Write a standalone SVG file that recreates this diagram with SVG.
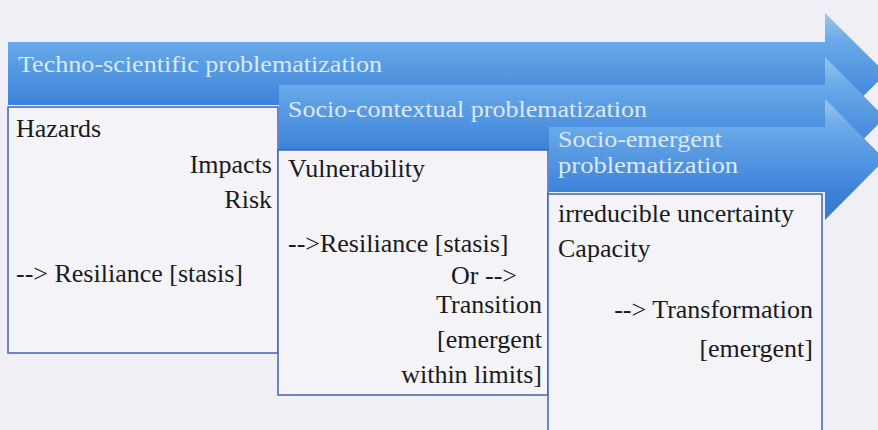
<svg xmlns="http://www.w3.org/2000/svg" width="878" height="430" viewBox="0 0 878 430">
<defs>
<linearGradient id="blueGrad" x1="0" y1="0" x2="0" y2="1">
<stop offset="0" stop-color="#9cc5ee"/>
<stop offset="0.24" stop-color="#68a9e8"/>
<stop offset="0.55" stop-color="#4f93e0"/>
<stop offset="0.76" stop-color="#3c82d9"/>
<stop offset="1" stop-color="#3778d0"/>
</linearGradient>
<style>
.arrow{fill:url(#blueGrad);}
.box{fill:#f3f3f8;stroke:#4262b2;stroke-width:1.5;}
.banner{font-family:"Liberation Serif",serif;font-size:23px;fill:#dce9f6;}
.body{font-family:"Liberation Serif",serif;font-size:26px;fill:#1a1a1a;}
.r{text-anchor:end;}
</style>
</defs>
<rect x="0" y="0" width="878" height="430" fill="#efeff5"/>
<g id="connectors"></g>
<g id="stage1">
<polygon class="arrow" points="8,42 825,42 825,13 886,73.5 825,134 825,105 8,105"/>
<text class="banner" x="18" y="72" textLength="364" lengthAdjust="spacingAndGlyphs">Techno-scientific problematization</text>
<rect class="box" x="8" y="107" width="270" height="246"/>
<text class="body" x="16" y="137">Hazards</text>
<text class="body r" x="272" y="173">Impacts</text>
<text class="body r" x="272" y="208">Risk</text>
<text class="body" x="16" y="282">--&gt; Resiliance [stasis]</text>
</g>
<g id="stage2">
<polygon class="arrow" points="279,85 825,85 825,57 885,117.5 825,178 825,150 279,150"/>
<text class="banner" x="288" y="117" textLength="359" lengthAdjust="spacingAndGlyphs">Socio-contextual problematization</text>
<rect class="box" x="278" y="150" width="270" height="245"/>
<text class="body" x="288" y="177">Vulnerability</text>
<text class="body" x="288" y="252">--&gt;Resiliance [stasis]</text>
<text class="body r" x="517" y="284">Or --&gt;</text>
<text class="body r" x="542" y="313">Transition</text>
<text class="body r" x="542" y="348">[emergent</text>
<text class="body r" x="542" y="383">within limits]</text>
</g>
<g id="stage3">
<polygon class="arrow" points="549,127 825,127 825,99 885,159.5 825,220 825,192 549,192"/>
<text class="banner" x="558" y="147" textLength="164" lengthAdjust="spacingAndGlyphs">Socio-emergent</text>
<text class="banner" x="558" y="173" textLength="180" lengthAdjust="spacingAndGlyphs">problematization</text>
<rect class="box" x="548" y="194" width="274" height="250"/>
<text class="body" x="558" y="222">irreducible uncertainty</text>
<text class="body" x="558" y="257">Capacity</text>
<text class="body r" x="813" y="318">--&gt; Transformation</text>
<text class="body r" x="813" y="357">[emergent]</text>
</g>
</svg>
